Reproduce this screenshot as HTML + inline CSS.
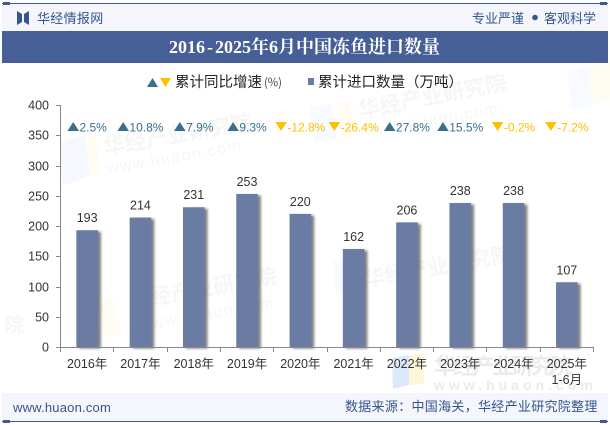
<!DOCTYPE html>
<html lang="zh-CN">
<head>
<meta charset="utf-8">
<title>2016-2025年6月中国冻鱼进口数量</title>
<style>
html,body{margin:0;padding:0;background:#fff;}
body{width:610px;height:425px;overflow:hidden;}
svg{display:block;}
.sans{font-family:"Liberation Sans","Noto Sans CJK SC",sans-serif;}
.cjk{font-family:"Noto Sans CJK SC","Liberation Sans",sans-serif;}
</style>
</head>
<body>
<svg id="chart" xmlns="http://www.w3.org/2000/svg" width="610" height="425" viewBox="0 0 610 425">
  <defs>
    <filter id="bar-shadow" x="-20%" y="-5%" width="150%" height="110%">
      <feDropShadow dx="3" dy="1.5" stdDeviation="1.2" flood-color="#555" flood-opacity="0.75"/>
    </filter>
  </defs>
  <rect x="0" y="0" width="610" height="425" fill="#fff"/>

  <g id="watermarks" class="sans" font-weight="bold" fill="#f6f6f6">
    <g>
      <polygon points="60,142 85,134 90,176 62,186" fill="#f5f9fe"/>
      <polygon points="85,138 96,135 100,172 90,176" fill="#fffdf3"/>
    </g>
    <text class="cjk" font-size="21.5" transform="translate(105,155) rotate(-10)">华经产业研究院</text>
    <text font-size="16" font-weight="normal" letter-spacing="1.5" transform="translate(108,174) rotate(-10)">www.huaon.com</text>
    <g>
      <polygon points="567,70 588,66 592,106 572,111" fill="#f7faff"/>
      <polygon points="588,66 610,58 610,100 592,106" fill="#fffdf3"/>
    </g>
    <g>
      <polygon points="310,108 332,103 336,140 315,142" fill="#f7faff"/>
      <polygon points="340,103 350,98 353,138 342,141" fill="#fffdf3"/>
    </g>
    <text class="cjk" font-size="21.5" transform="translate(360,118) rotate(-11)">华经产业研究院</text>
    <text font-size="16" font-weight="normal" letter-spacing="1.5" transform="translate(365,137) rotate(-10)">www.huaon.com</text>
    <g>
      <polygon points="100,300 112,296 122,335 105,338" fill="#fffdf3"/>
    </g>
    <text class="cjk" font-size="21.5" transform="translate(130,309) rotate(-10)">华经产业研究院</text>
    <text font-size="16" font-weight="normal" letter-spacing="1.5" transform="translate(140,331) rotate(-10)">www.huaon.com</text>
    <g>
      <polygon points="333,262 350,258 352,290 336,294" fill="#f7faff"/>
    </g>
    <text class="cjk" font-size="21.5" transform="translate(365,287) rotate(-10)">华经产业研究院</text>
    <text class="cjk" font-size="20" x="4" y="332">院</text>
    <g>
      <polygon points="392,358 409,355 409,385 393,389" fill="#dbe9fb"/>
      <polygon points="409,355 424,354 424,384 409,385" fill="#fdf6d8"/>
    </g>
    <text class="cjk" font-size="22" fill="#ebebeb" x="434" y="374" textLength="138">华经产业研究院</text>
    <text font-size="14" fill="#ebebeb" x="434" y="390" letter-spacing="4">www.huaon.com</text>
  </g>

  <g>
    <rect x="2" y="4" width="606" height="27" fill="#f4f6fb"/>
    <rect x="2" y="3" width="606" height="1" fill="#3f5b92"/>
    <rect x="3" y="2" width="7" height="3" fill="#3f5b92"/>
    <rect x="600" y="2" width="7" height="3" fill="#3f5b92"/>
    <path d="M17 11 L22 14 L22 22 L17 25 Z M29 11 L24 14 L24 22 L29 25 Z" fill="#34558f"/>
    <text class="cjk" x="37" y="23" font-size="13" letter-spacing="0.3" fill="#34558f">华经情报网</text>
    <text class="cjk" x="472" y="23" font-size="13" fill="#34558f">专业严谨</text>
    <circle cx="535" cy="17.5" r="2.8" fill="#34558f"/>
    <text class="cjk" x="544" y="23" font-size="13" fill="#34558f">客观科学</text>
  </g>

  <g>
    <rect x="2" y="31" width="606" height="32" fill="#465f96"/>
    <text x="169" y="53" font-size="18" font-weight="bold" fill="#fff" font-family="'Liberation Serif','Noto Serif CJK SC',serif">2016<tspan dx="2">-</tspan><tspan dx="2">2025年6月中国冻鱼进口数量</tspan></text>
  </g>

  <g>
    <g>
      <polygon points="147,87 158,87 152.5,78" fill="#37708f"/>
      <polygon points="160,78 171,78 165.5,87" fill="#ffc000"/>
      <text class="cjk" x="175" y="87" font-size="14.5" fill="#222">累计同比增速</text>
      <text class="cjk" x="264" y="86.5" font-size="12" textLength="18" lengthAdjust="spacingAndGlyphs" fill="#444">(%)</text>
    </g>
    <g>
      <rect x="308" y="78" width="6" height="7" fill="#6a7ca3"/>
      <text class="cjk" x="318" y="87" font-size="14.5" fill="#222">累计进口数量（万吨）</text>
    </g>
  </g>

  <g id="y-axis"></g>
  <g id="bars"></g>
  <g id="x-axis"></g>
  <g id="value-labels"></g>
  <g id="growth-labels"></g>

  <g>
    <rect x="2" y="393" width="606" height="28" fill="#f4f6fb"/>
    <rect x="2" y="421" width="606" height="1" fill="#3f5b92"/>
    <rect x="3" y="420" width="7" height="3" fill="#3f5b92"/>
    <rect x="600" y="420" width="7" height="3" fill="#3f5b92"/>
    <text class="sans" x="13" y="412" font-size="13" letter-spacing="0.2" fill="#34558f">www.huaon.com</text>
    <text class="cjk" x="345" y="411" font-size="13" letter-spacing="0.3" fill="#34558f">数据来源：中国海关，华经产业研究院整理</text>
  </g>
</svg>
<script>
const categories = ["2016年","2017年","2018年","2019年","2020年","2021年","2022年","2023年","2024年","2025年"];
const categoryNotes = ["","","","","","","","","","1-6月"];
const importVolume = [193,214,231,253,220,162,206,238,238,107];
const growthRate = [2.5,10.8,7.9,9.3,-12.8,-26.4,27.8,15.5,-0.2,-7.2];
const yTicks = [0,50,100,150,200,250,300,350,400];

const SVG_NS = "http://www.w3.org/2000/svg";
const plotLeft = 60, plotRight = 593, plotBottom = 347, plotTop = 105;
const yMax = yTicks[yTicks.length - 1];
const yScale = v => plotBottom - (v / yMax) * (plotBottom - plotTop);
const band = (plotRight - plotLeft) / categories.length;
const xEdge = i => plotLeft + i * band;
const xCenter = i => plotLeft + (i + 0.5) * band + 0.5;
const sansStack = '"Liberation Sans","Noto Sans CJK SC",sans-serif';

function make(tag, attrs, text) {
  const el = document.createElementNS(SVG_NS, tag);
  for (const k in attrs) el.setAttribute(k, attrs[k]);
  if (text !== undefined) el.textContent = text;
  return el;
}

const yAxis = document.getElementById("y-axis");
const xAxis = document.getElementById("x-axis");
const barsGroup = document.getElementById("bars");
const valueGroup = document.getElementById("value-labels");
const growthGroup = document.getElementById("growth-labels");

const yLine = make("line", {x1: plotLeft + .5, x2: plotLeft + .5, y1: plotTop, y2: plotBottom + .5, stroke: "#888"});


yAxis.appendChild(yLine);

yTicks.forEach(t => {
  const y = Math.round(yScale(t)) + .5;
  const tick = make("line", {x1: plotLeft - 4, x2: plotLeft + .5, y1: y, y2: y, stroke: "#888"});
  
  
  yAxis.appendChild(tick);
  const label = make("text", {x: 49, y: y + 4, "text-anchor": "end", "font-size": 12.5, fill: "#333", "font-family": sansStack}, String(t));
  
  
  yAxis.appendChild(label);
});

const xLine = make("line", {x1: plotLeft, x2: plotRight, y1: plotBottom + .5, y2: plotBottom + .5, stroke: "#888"});


xAxis.appendChild(xLine);

for (let i = 0; i <= categories.length; i++) {
  const x = Math.round(xEdge(i)) + .5;
  const tick = make("line", {x1: x, x2: x, y1: plotBottom, y2: plotBottom + 5, stroke: "#888"});
  
  
  xAxis.appendChild(tick);
}

categories.forEach((c, i) => {
  const cx = xCenter(i);
  const label = make("text", {x: cx, y: 368, "text-anchor": "middle", "font-size": 12.5, fill: "#333", "font-family": sansStack}, c);
  
  
  xAxis.appendChild(label);
  if (categoryNotes[i]) {
    const note = make("text", {x: cx, y: 384, "text-anchor": "middle", "font-size": 12.5, fill: "#333", "font-family": sansStack}, categoryNotes[i]);
    
    
    xAxis.appendChild(note);
  }
});

importVolume.forEach((v, i) => {
  const cx = xCenter(i);
  const y = yScale(v);
  const bar = make("rect", {x: cx - 10.8, y: y, width: 21.6, height: plotBottom - y, fill: "#6a7ca3", filter: "url(#bar-shadow)"});
  
  
  barsGroup.appendChild(bar);
  const label = make("text", {x: cx, y: y - 8, "text-anchor": "middle", "font-size": 12.5, fill: "#333", "font-family": sansStack}, String(v));
  
  
  valueGroup.appendChild(label);
});

growthRate.forEach((g, i) => {
  const up = g >= 0;
  const color = up ? "#37708f" : "#ffc000";
  const text = make("text", {y: 131.5, "font-size": 12, fill: color, "font-family": sansStack}, g.toFixed(1) + "%");
  
  
  growthGroup.appendChild(text);
  const w = text.getComputedTextLength();
  const triW = 11.5;
  const start = xCenter(i) - (w + triW + .5) / 2;
  text.setAttribute("x", start + triW + .5);
  const pts = up
    ? [[start, 131], [start + triW, 131], [start + triW / 2, 122]]
    : [[start, 122], [start + triW, 122], [start + triW / 2, 131]];
  const tri = make("polygon", {points: pts.map(p => p.join(",")).join(" "), fill: color});
  
  
  growthGroup.appendChild(tri);
});
</script>
</body>
</html>
